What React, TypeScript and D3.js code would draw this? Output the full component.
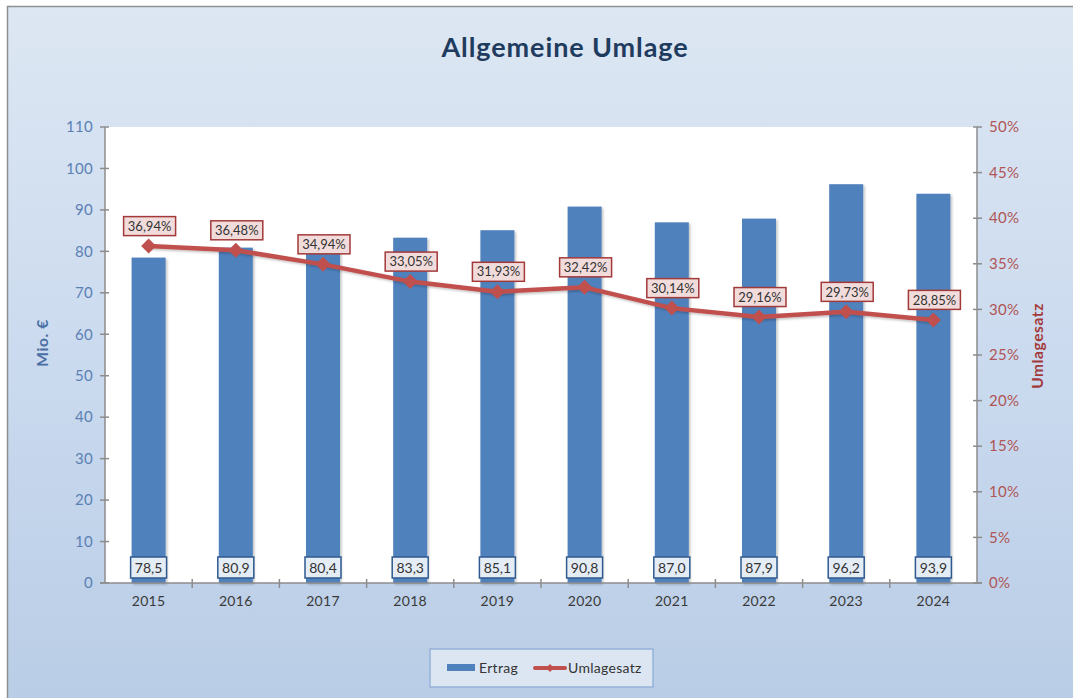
import React from "react";
import * as d3 from "d3";

const years = ["2015", "2016", "2017", "2018", "2019", "2020", "2021", "2022", "2023", "2024"];
const ertrag = [78.5, 80.9, 80.4, 83.3, 85.1, 90.8, 87.0, 87.9, 96.2, 93.9];
const umlagesatz = [36.94, 36.48, 34.94, 33.05, 31.93, 32.42, 30.14, 29.16, 29.73, 28.85];
const leftTicks = [0, 10, 20, 30, 40, 50, 60, 70, 80, 90, 100, 110];
const rightTicks = [0, 5, 10, 15, 20, 25, 30, 35, 40, 45, 50];

const W = 1073, H = 698;
const L = 105, R = 977, T = 127, B = 583;
const FONT = "'Century Gothic', 'URW Gothic', Lato, 'DejaVu Sans', sans-serif";

const fmt = (v: number, d: number) => v.toFixed(d).replace(".", ",");

export default function App() {
  const x = d3.scaleBand<string>().domain(years).range([L, R]).paddingInner(0).paddingOuter(0);
  const yL = d3.scaleLinear().domain([0, 110]).range([B, T]);
  const yR = d3.scaleLinear().domain([0, 50]).range([B, T]);
  const bw = x.bandwidth() * 0.39;
  const cx = (y: string) => (x(y) as number) + x.bandwidth() / 2;
  const line = d3.line<number>().x((_, i) => cx(years[i])).y((v) => yR(v));
  const axisGrey = "#8c8c8c";

  return (
    <div style={{ position: "absolute", left: 0, top: 0 }}>
      <svg width={W} height={H} style={{ display: "block" }}>
        <defs>
          <linearGradient id="bg" x1="0" y1="0" x2="0" y2="1">
            <stop offset="0" stopColor="#dde7f3" />
            <stop offset="0.55" stopColor="#c9d9ee" />
            <stop offset="1" stopColor="#b9cde6" />
          </linearGradient>
          <filter id="sh" x="-20%" y="-20%" width="140%" height="140%">
            <feDropShadow dx="1.5" dy="1.5" stdDeviation="1.2" floodColor="#000" floodOpacity="0.25" />
          </filter>
        </defs>
        <rect x={0} y={0} width={W} height={H} fill="#ffffff" />
        <rect x={7.5} y={6.5} width={W} height={H} fill="url(#bg)" stroke="#8f8f8f" strokeWidth={1.5} />
        <text x={565} y={57} textAnchor="middle" fontFamily={FONT} fontWeight="bold" fontSize={27} letterSpacing={0.9} fill="#1f3b5e">
          Allgemeine Umlage
        </text>

        <rect x={L} y={T} width={R - L} height={B - T} fill="#ffffff" />

        {years.map((yr, i) => (
          <rect key={yr} x={cx(yr) - bw / 2} y={yL(ertrag[i])} width={bw} height={B - yL(ertrag[i])} fill="#4f81bd" filter="url(#sh)" />
        ))}

        {/* axes */}
        <line x1={L} y1={T} x2={L} y2={B} stroke={axisGrey} strokeWidth={1.5} />
        <line x1={R} y1={T} x2={R} y2={B} stroke={axisGrey} strokeWidth={1.5} />
        <line x1={L - 5} y1={B} x2={R + 5} y2={B} stroke={axisGrey} strokeWidth={1.5} />
        {leftTicks.map((t) => (
          <g key={"l" + t}>
            <line x1={L - 5} x2={L + 4} y1={yL(t)} y2={yL(t)} stroke={axisGrey} strokeWidth={1.5} />
            <text x={L - 12} y={yL(t)} dy="0.35em" textAnchor="end" fontFamily={FONT} fontSize={15} letterSpacing={0.3} fill="#5b80b4">
              {t}
            </text>
          </g>
        ))}
        {rightTicks.map((t) => (
          <g key={"r" + t}>
            <line x1={R - 4} x2={R + 5} y1={yR(t)} y2={yR(t)} stroke={axisGrey} strokeWidth={1.5} />
            <text x={R + 12} y={yR(t)} dy="0.35em" textAnchor="start" fontFamily={FONT} fontSize={15} letterSpacing={0.3} fill="#b05555">
              {t}%
            </text>
          </g>
        ))}
        {years.map((yr, i) => (
          <g key={"x" + yr}>
            {i > 0 && <line x1={x(yr) as number} x2={x(yr) as number} y1={B - 4} y2={B + 5} stroke={axisGrey} strokeWidth={1.5} />}
            <text x={cx(yr)} y={B + 23} textAnchor="middle" fontFamily={FONT} fontSize={14} letterSpacing={0.3} fill="#3a3a3a">
              {yr}
            </text>
          </g>
        ))}

        {/* axis titles */}
        <text transform={`translate(48,${343}) rotate(-90)`} textAnchor="middle" fontFamily={FONT} fontWeight="bold" fontSize={15.5} letterSpacing={0.6} fill="#4a6fa5">
          Mio. €
        </text>
        <text transform={`translate(1043,${346}) rotate(-90)`} textAnchor="middle" fontFamily={FONT} fontWeight="bold" fontSize={15.5} letterSpacing={0.6} fill="#a33a3a">
          Umlagesatz
        </text>

        {/* value labels */}
        {years.map((yr, i) => (
          <g key={"v" + yr}>
            <rect x={cx(yr) - 18} y={557} width={36} height={21} fill="#e4ecf6" stroke="#2f5a8e" strokeWidth={1.5} />
            <text x={cx(yr)} y={567.5} dy="0.36em" textAnchor="middle" fontFamily={FONT} fontSize={14} fill="#333">
              {fmt(ertrag[i], 1)}
            </text>
          </g>
        ))}

        {/* line */}
        <path d={line(umlagesatz) || ""} fill="none" stroke="#c0504d" strokeWidth={4.5} strokeLinejoin="round" filter="url(#sh)" />
        {years.map((yr, i) => {
          const px = cx(yr), py = yR(umlagesatz[i]);
          const s = 7.5;
          return (
            <path key={"m" + yr} d={`M${px},${py - s}L${px + s},${py}L${px},${py + s}L${px - s},${py}Z`} fill="#c0504d" />
          );
        })}
        {years.map((yr, i) => {
          const px = cx(yr) + 1, py = yR(umlagesatz[i]) - 20;
          return (
            <g key={"p" + yr}>
              <rect x={px - 26} y={py - 9.5} width={52} height={19} fill="#f2dcdb" stroke="#a33a3a" strokeWidth={1.5} />
              <text x={px} y={py} dy="0.36em" textAnchor="middle" fontFamily={FONT} fontSize={13} fill="#333">
                {fmt(umlagesatz[i], 2)}%
              </text>
            </g>
          );
        })}

        {/* legend */}
        <rect x={430} y={649} width={223} height={38} fill="#dce6f2" stroke="#95b3d7" strokeWidth={1.5} />
        <rect x={447} y={664} width={28} height={7} fill="#4f81bd" />
        <text x={479} y={668} dy="0.35em" fontFamily={FONT} fontSize={14} letterSpacing={0.3} fill="#333">Ertrag</text>
        <line x1={535} x2={565} y1={668} y2={668} stroke="#c0504d" strokeWidth={4} strokeLinecap="round" />
        <path d="M550,664L554,668L550,672L546,668Z" fill="#c0504d" />
        <text x={568} y={668} dy="0.35em" fontFamily={FONT} fontSize={14} letterSpacing={0.3} fill="#333">Umlagesatz</text>
      </svg>
    </div>
  );
}
